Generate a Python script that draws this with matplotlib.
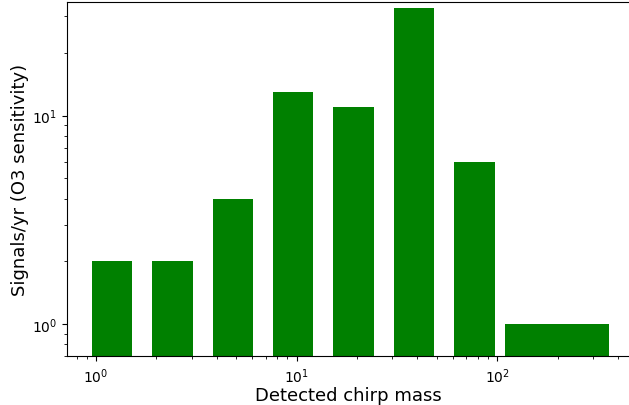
import matplotlib
matplotlib.use("Agg")
import numpy as np
import matplotlib.pyplot as plt

# chirp-mass bins (lower / upper edge of each bar) and signal rates
mass_lo = [0.952, 1.904, 3.81, 7.62, 15.2, 30.5, 60.9, 109.7]
mass_hi = [1.517, 3.03, 6.07, 12.1, 24.3, 48.5, 97.1, 360.9]
rates = [2, 2, 4, 13, 11, 33, 6, 1]

W, H = 629, 406
fig = plt.figure(figsize=(W / 100, H / 100), dpi=100)
ax = fig.add_axes([66.7 / W, 48.7 / H, (631 - 66.7) / W, (402.7 - 48.7) / H])

lo = np.array(mass_lo)
hi = np.array(mass_hi)
ax.bar(lo, rates, width=hi - lo, align='edge', color='green')

ax.set_xscale('log')
ax.set_yscale('log')
ax.set_xlim(0.714, 464)
ax.set_ylim(0.70, 35.0)
ax.set_xlabel('Detected chirp mass', fontsize=13, labelpad=1)
ax.set_ylabel('Signals/yr (O3 sensitivity)', fontsize=13, labelpad=2)

fig.savefig('out.png', dpi=100)
